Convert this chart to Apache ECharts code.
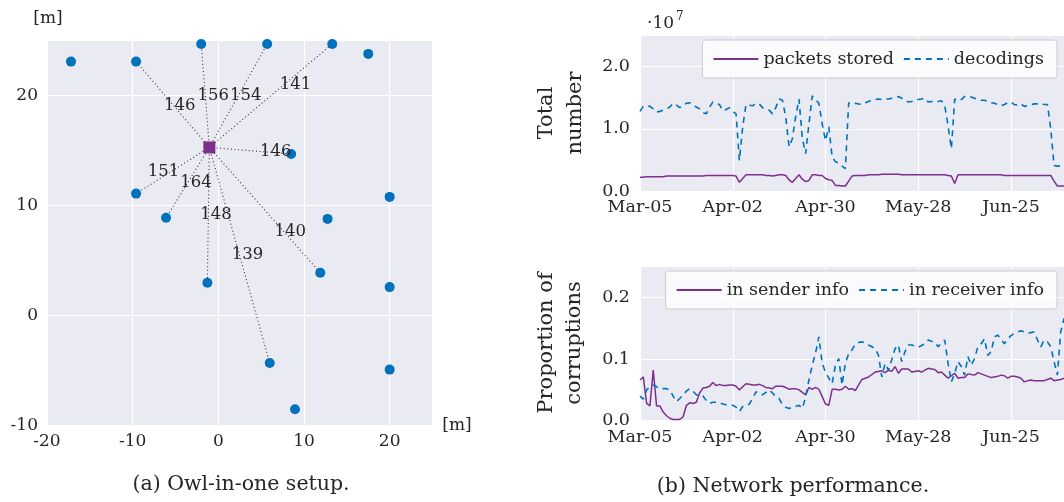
<!DOCTYPE html>
<html><head><meta charset="utf-8">
<script src="https://cdn.jsdelivr.net/npm/echarts@6/dist/echarts.min.js"></script>
<style>html,body{margin:0;padding:0;background:#fff}#c{width:1064px;height:502px}</style>
</head><body><div id="c"></div><script>
// ---------- (a) Owl-in-one setup ----------
const nodeX = [-17.2, -9.6, -2.0, 5.7, 13.3, 17.5, 8.5, -9.6, 20.0, -6.1, 12.75, -1.28, 11.9, 20.0, 6.0, 20.0, 8.95];
const nodeY = [23.1, 23.1, 24.7, 24.7, 24.7, 23.8, 14.7, 11.1, 10.8, 8.9, 8.8, 3.0, 3.9, 2.6, -4.3, -4.9, -8.5];
const gatewayX = -1.05;
const gatewayY = 15.3;
const linkTargets = [1, 2, 3, 4, 6, 7, 9, 11, 14, 12];
const linkDistances = [146, 156, 154, 141, 146, 151, 164, 148, 139, 140];
const labelX = [-4.5, -0.6, 3.2, 9.0, 6.7, -6.4, -2.6, -0.27, 3.4, 8.4];
const labelY = [19.1, 20.0, 20.0, 21.0, 14.9, 13.1, 12.06, 9.15, 5.5, 7.6];

// ---------- (b) Network performance (day index 0 = Mar-05) ----------
const dateTickLabels = ['Mar-05', 'Apr-02', 'Apr-30', 'May-28', 'Jun-25'];
// totals in units of 10^7
const packetsStored = [
  0.22,0.22,0.23,0.23,0.23, 0.23,0.23,0.23,0.24,0.24, 0.24,0.24,0.24,0.24,0.24, 0.24,0.24,0.24,0.24,0.24,
  0.25,0.25,0.25,0.25,0.25, 0.25,0.25,0.25,0.25,0.24, 0.14,0.20,0.26,0.26,0.26, 0.26,0.26,0.26,0.25,0.25,
  0.24,0.25,0.26,0.26,0.25, 0.18,0.14,0.20,0.26,0.19, 0.15,0.17,0.26,0.26,0.25, 0.25,0.20,0.18,0.17,0.09,
  0.09,0.08,0.08,0.16,0.24, 0.25,0.25,0.25,0.25,0.26, 0.26,0.26,0.26,0.27,0.27, 0.27,0.27,0.27,0.27,0.26,
  0.26,0.26,0.26,0.26,0.26, 0.26,0.26,0.26,0.26,0.26, 0.26,0.26,0.26,0.25,0.24, 0.12,0.26,0.26,0.26,0.26,
  0.26,0.26,0.26,0.26,0.26, 0.26,0.26,0.26,0.26,0.26, 0.25,0.25,0.25,0.25,0.25, 0.25,0.25,0.25,0.25,0.25,
  0.25,0.25,0.25,0.25,0.25, 0.16,0.08,0.08,0.08
];
const decodings = [
  1.28,1.36,1.37,1.36,1.32, 1.27,1.28,1.30,1.32,1.35, 1.41,1.38,1.34,1.38,1.41, 1.42,1.38,1.35,1.32,1.26,
  1.24,1.35,1.43,1.41,1.39, 1.29,1.31,1.34,1.28,1.24, 0.49,1.03,1.39,1.38,1.37, 1.41,1.40,1.34,1.32,1.30,
  1.24,1.34,1.48,1.46,1.19, 0.71,0.84,1.20,1.48,0.85, 0.60,1.08,1.53,1.47,1.41, 1.08,0.81,1.03,0.55,0.47,
  0.45,0.40,0.36,1.42,1.40, 1.41,1.40,1.39,1.42,1.44, 1.46,1.47,1.48,1.47,1.48, 1.48,1.49,1.50,1.52,1.49,
  1.46,1.43,1.44,1.46,1.47, 1.48,1.49,1.43,1.44,1.43, 1.44,1.45,1.37,1.05,0.68, 1.48,1.45,1.47,1.52,1.52,
  1.51,1.49,1.47,1.46,1.46, 1.44,1.42,1.41,1.39,1.37, 1.39,1.42,1.43,1.39,1.38, 1.40,1.36,1.37,1.39,1.40,
  1.40,1.40,1.39,1.39,1.00, 0.41,0.40,0.40,0.40
];
const senderCorruptions = [
  0.066,0.071,0.028,0.024,0.082, 0.024,0.024,0.014,0.008,0.004, 0.002,0.002,0.002,0.006,0.025, 0.029,0.028,0.030,0.045,0.053,
  0.054,0.056,0.062,0.057,0.059, 0.057,0.057,0.058,0.058,0.056, 0.050,0.055,0.060,0.059,0.058, 0.058,0.059,0.057,0.054,0.053,
  0.052,0.056,0.056,0.056,0.054, 0.051,0.052,0.052,0.050,0.046, 0.042,0.054,0.051,0.054,0.051, 0.039,0.027,0.025,0.051,0.051,
  0.050,0.051,0.056,0.051,0.052, 0.049,0.058,0.067,0.069,0.071, 0.075,0.079,0.080,0.081,0.078, 0.082,0.080,0.088,0.077,0.084,
  0.084,0.084,0.079,0.080,0.081, 0.079,0.082,0.085,0.084,0.083, 0.078,0.079,0.074,0.069,0.073, 0.077,0.069,0.070,0.070,0.076,
  0.075,0.074,0.078,0.076,0.074, 0.072,0.070,0.071,0.072,0.074, 0.073,0.069,0.072,0.072,0.071, 0.069,0.063,0.065,0.066,0.065,
  0.065,0.065,0.065,0.067,0.069, 0.065,0.066,0.067,0.069
];
const receiverCorruptions = [
  0.040,0.035,0.050,0.055,0.058, 0.055,0.052,0.052,0.052,0.050, 0.040,0.031,0.036,0.042,0.048, 0.052,0.048,0.042,0.042,0.040,
  0.033,0.028,0.030,0.030,0.029, 0.027,0.026,0.025,0.025,0.022, 0.015,0.023,0.024,0.027,0.036, 0.047,0.043,0.042,0.046,0.050,
  0.045,0.039,0.036,0.026,0.022, 0.020,0.021,0.023,0.025,0.020, 0.038,0.066,0.090,0.110,0.136, 0.093,0.079,0.069,0.060,0.090,
  0.101,0.058,0.093,0.109,0.115, 0.125,0.127,0.128,0.126,0.123, 0.120,0.117,0.106,0.071,0.093, 0.082,0.099,0.117,0.123,0.096,
  0.112,0.123,0.123,0.121,0.119, 0.122,0.125,0.131,0.129,0.128, 0.120,0.126,0.131,0.093,0.063, 0.077,0.096,0.088,0.074,0.104,
  0.090,0.101,0.120,0.125,0.133, 0.106,0.112,0.136,0.139,0.132, 0.125,0.133,0.138,0.142,0.144, 0.146,0.144,0.142,0.143,0.144,
  0.131,0.120,0.131,0.128,0.120, 0.096,0.074,0.144,0.166
];

// ---------- styling ----------
const FONT = 'DejaVu Serif';
const TXT = '#262626';
const BG = '#EAEAF2';
const BLUE = '#0072BD';
const PURPLE = '#7E2F8E';

const pairs = arr => arr.map((v, i) => [i, v]);
const hideAt = (vals) => (v) => vals.includes(v) ? '' : String(v);

const gridLine = { show: true, lineStyle: { color: '#ffffff', width: 1.2 } };
const noLine = { show: false };

const chart = echarts.init(document.getElementById('c'), null, { renderer: 'canvas' });

const linkData = linkTargets.map(t => ({ coords: [[gatewayX, gatewayY], [nodeX[t], nodeY[t]]] }));
const nodeData = nodeX.map((x, i) => [x, nodeY[i]]);
const labelData = labelX.map((x, i) => [x, labelY[i], linkDistances[i]]);

const legendCommon = {
  orient: 'horizontal',
  right: 7,
  itemWidth: 45,
  itemHeight: 14,
  itemGap: 9,
  padding: [9, 13, 9, 10],
  backgroundColor: 'rgba(255,255,255,0.8)',
  borderColor: '#cccccc',
  borderWidth: 1,
  borderRadius: 3,
  itemStyle: { opacity: 0 },
  textStyle: { fontFamily: FONT, fontSize: 17.5, color: TXT, lineHeight: 20 },
  selectedMode: false
};

const option = {
  backgroundColor: '#ffffff',
  animation: false,
  textStyle: { fontFamily: FONT },
  grid: [
    { left: 47, top: 40.7, width: 385.5, height: 385, show: true, backgroundColor: BG, borderWidth: 0, outerBoundsMode: 'none' },
    { left: 640, top: 35.5, right: 0, height: 155.5, show: true, backgroundColor: BG, borderWidth: 0, outerBoundsMode: 'none' },
    { left: 640, top: 266.7, right: 0, height: 154, show: true, backgroundColor: BG, borderWidth: 0, outerBoundsMode: 'none' }
  ],
  xAxis: [
    { gridIndex: 0, type: 'value', min: -20, max: 25, interval: 10,
      axisLine: noLine, axisTick: noLine, splitLine: gridLine,
      axisLabel: { fontFamily: FONT, fontSize: 17, color: TXT, margin: 7, formatter: hideAt([25]) } },
    { gridIndex: 1, type: 'value', min: 0, max: 128, interval: 28,
      axisLine: noLine, axisTick: noLine, splitLine: gridLine,
      axisLabel: { fontFamily: FONT, fontSize: 17.5, color: TXT, margin: 7, showMaxLabel: false,
        formatter: v => (v % 28 === 0 ? (dateTickLabels[v / 28] || '') : '') } },
    { gridIndex: 2, type: 'value', min: 0, max: 128, interval: 28,
      axisLine: noLine, axisTick: noLine, splitLine: gridLine,
      axisLabel: { fontFamily: FONT, fontSize: 17.5, color: TXT, margin: 8, showMaxLabel: false,
        formatter: v => (v % 28 === 0 ? (dateTickLabels[v / 28] || '') : '') } }
  ],
  yAxis: [
    { gridIndex: 0, type: 'value', min: -10, max: 25, interval: 10,
      axisLine: noLine, axisTick: noLine, splitLine: gridLine,
      axisLabel: { fontFamily: FONT, fontSize: 17, color: TXT, margin: 9, formatter: hideAt([25]) } },
    { gridIndex: 1, type: 'value', min: 0, max: 2.5, interval: 1,
      axisLine: noLine, axisTick: noLine, splitLine: gridLine,
      axisLabel: { fontFamily: FONT, fontSize: 17.5, color: TXT, margin: 10,
        formatter: v => (Number.isInteger(v) ? v.toFixed(1) : '') } },
    { gridIndex: 2, type: 'value', min: 0, max: 0.25, interval: 0.1,
      axisLine: noLine, axisTick: noLine, splitLine: gridLine,
      axisLabel: { fontFamily: FONT, fontSize: 17.5, color: TXT, margin: 10,
        formatter: v => (Math.abs(v * 10 - Math.round(v * 10)) < 1e-6 ? v.toFixed(1) : '') } }
  ],
  legend: [
    Object.assign({}, legendCommon, { top: 40, data: ['packets stored', 'decodings'] }),
    Object.assign({}, legendCommon, { top: 271, data: ['in sender info', 'in receiver info'] })
  ],
  series: [
    { type: 'lines', coordinateSystem: 'cartesian2d', xAxisIndex: 0, yAxisIndex: 0, z: 2,
      lineStyle: { color: '#333333', width: 1.1, type: [1, 2.6], opacity: 1 },
      data: linkData, silent: true },
    { type: 'scatter', xAxisIndex: 0, yAxisIndex: 0, z: 4, symbol: 'circle', symbolSize: 10,
      itemStyle: { color: BLUE, opacity: 1 }, data: nodeData, silent: true },
    { type: 'scatter', xAxisIndex: 0, yAxisIndex: 0, z: 5, symbol: 'rect', symbolSize: 12,
      itemStyle: { color: PURPLE, opacity: 1 }, data: [[gatewayX, gatewayY]], silent: true },
    { type: 'scatter', xAxisIndex: 0, yAxisIndex: 0, z: 6, symbolSize: 1,
      itemStyle: { color: 'rgba(0,0,0,0)', opacity: 1 }, data: labelData, silent: true,
      label: { show: true, position: 'inside', fontFamily: FONT, fontSize: 16.5, color: TXT, opacity: 1,
        formatter: p => String(p.value[2]) } },

    { name: 'packets stored', type: 'line', xAxisIndex: 1, yAxisIndex: 1, symbol: 'none', showSymbol: false,
      lineStyle: { color: PURPLE, width: 1.5 }, itemStyle: { color: PURPLE }, data: pairs(packetsStored), z: 3 },
    { name: 'decodings', type: 'line', xAxisIndex: 1, yAxisIndex: 1, symbol: 'none', showSymbol: false,
      lineStyle: { color: BLUE, width: 1.6, type: [6, 5] }, itemStyle: { color: BLUE }, data: pairs(decodings), z: 3 },
    { name: 'in sender info', type: 'line', xAxisIndex: 2, yAxisIndex: 2, symbol: 'none', showSymbol: false,
      lineStyle: { color: PURPLE, width: 1.5 }, itemStyle: { color: PURPLE }, data: pairs(senderCorruptions), z: 3 },
    { name: 'in receiver info', type: 'line', xAxisIndex: 2, yAxisIndex: 2, symbol: 'none', showSymbol: false,
      lineStyle: { color: BLUE, width: 1.6, type: [6, 5] }, itemStyle: { color: BLUE }, data: pairs(receiverCorruptions), z: 3 }
  ],
  graphic: [
    { type: 'text', x: 48, y: 19, style: { text: '[m]', font: '17px "DejaVu Serif"', fill: TXT, align: 'center', verticalAlign: 'middle' } },
    { type: 'text', x: 457, y: 426, style: { text: '[m]', font: '17px "DejaVu Serif"', fill: TXT, align: 'center', verticalAlign: 'middle' } },
    { type: 'text', x: 241, y: 485, style: { text: '(a) Owl-in-one setup.', font: '20.5px "DejaVu Serif"', fill: TXT, align: 'center', verticalAlign: 'middle' } },
    { type: 'text', x: 793, y: 487, style: { text: '(b) Network performance.', font: '20.5px "DejaVu Serif"', fill: TXT, align: 'center', verticalAlign: 'middle' } },
    { type: 'text', x: 647, y: 24, style: { text: '·10', font: '17px "DejaVu Serif"', fill: TXT, align: 'left', verticalAlign: 'middle' } },
    { type: 'text', x: 676, y: 17, style: { text: '7', font: '12px "DejaVu Serif"', fill: TXT, align: 'left', verticalAlign: 'middle' } },
    { type: 'text', x: 547, y: 113, rotation: Math.PI / 2, style: { text: 'Total', font: '21px "DejaVu Serif"', fill: TXT, align: 'center', verticalAlign: 'middle' } },
    { type: 'text', x: 576, y: 113, rotation: Math.PI / 2, style: { text: 'number', font: '21px "DejaVu Serif"', fill: TXT, align: 'center', verticalAlign: 'middle' } },
    { type: 'text', x: 547, y: 343, rotation: Math.PI / 2, style: { text: 'Proportion of', font: '21px "DejaVu Serif"', fill: TXT, align: 'center', verticalAlign: 'middle' } },
    { type: 'text', x: 575, y: 343, rotation: Math.PI / 2, style: { text: 'corruptions', font: '21px "DejaVu Serif"', fill: TXT, align: 'center', verticalAlign: 'middle' } }
  ]
};
chart.setOption(option);
</script></body></html>
